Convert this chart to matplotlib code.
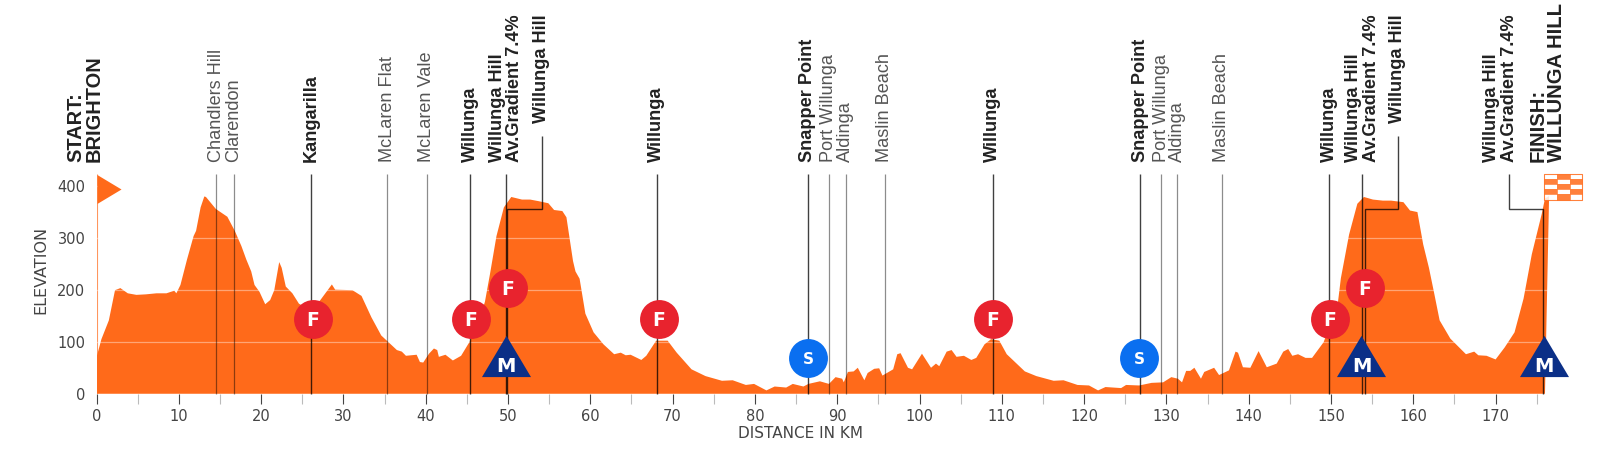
import matplotlib
matplotlib.use('Agg')
import matplotlib.pyplot as plt
from matplotlib.path import Path
from matplotlib.patches import Rectangle

# elevation profile
km = [0, 0.6, 1.5, 2.25, 2.9, 3.8, 4.85, 6, 7.3, 8.5, 9.45, 9.7, 10.2, 11, 11.8, 12.1, 12.65, 13.1, 13.3,
      14.5, 15.9, 16.8, 17.6, 18.2, 18.8, 19.2, 19.8, 20.5, 21.1, 21.6, 22.2, 22.5, 23, 23.8, 24.6, 25.5, 26.4,
      27.2, 28.6, 29, 31.1, 32.2, 33.4, 34.6, 36.5, 37.1, 37.6, 38.9, 39.3, 39.7, 40.4, 41, 41.4, 41.6, 42.4,
      43.3, 44.3, 45.3, 46.3, 47.2, 47.8, 48.6, 49.5, 50.4, 51.7, 52.7, 53.7, 54.9, 55.6, 56.6, 57.1, 57.9,
      58.2, 58.7, 59.4, 60.4, 61.6, 62.9, 63.7, 64.3, 64.9, 66.2, 66.8, 68, 69.4, 70.5, 72.3, 74, 76, 77.3,
      78.9, 79.9, 81.4, 82.4, 83.8, 84.6, 85.9, 86.5, 87.9, 89, 89.8, 90.6, 90.8, 91.3, 92, 92.5, 93.3, 93.7,
      94.5, 95.1, 95.5, 96.8, 97.3, 97.7, 98.6, 99.1, 100.3, 101.4, 102, 102.4, 103.3, 103.9, 104.5, 105.4,
      106.3, 106.9, 107.9, 108.7, 109.7, 110.6, 112.8, 114.2, 116.3, 117.5, 119.2, 120.6, 121.7, 122.6, 124.5,
      125.1, 126.7, 128.2, 129.6, 130.6, 131.4, 131.9, 132.4, 132.9, 133.4, 134.2, 134.6, 135.8, 136.4, 137.6,
      138.4, 138.7, 139.3, 140.2, 141.2, 142.2, 143.4, 144.2, 144.8, 145.3, 146, 146.9, 147.7, 149.1, 150.8,
      151.2, 152.2, 153.2, 154, 155.1, 156.3, 157.3, 158.8, 159.6, 160.5, 161.2, 161.9, 162.5, 163.2, 164.5,
      166.4, 167.4, 167.9, 168.9, 170, 171.1, 172.3, 173.4, 174.4, 175.6, 176, 176.5, 176, 0]
elev = [70, 105, 141, 199, 203, 193, 190, 191, 193, 193, 198, 193, 209, 258, 303, 313, 358, 379, 378,
        355, 340, 313, 284, 258, 235, 209, 196, 172, 180, 199, 253, 242, 206, 193, 173, 165, 165,
        180, 210, 200, 199, 188, 147, 112, 84, 81, 73, 75, 61, 60, 77, 87, 84, 71, 75,
        64, 73, 99, 130, 177, 229, 303, 358, 378, 373, 373, 370, 366, 353, 351, 339, 255,
        235, 221, 154, 118, 95, 76, 79, 74, 75, 65, 73, 102, 102, 79, 47, 34, 25, 26,
        17, 19, 6.5, 14, 12, 19, 14, 19, 24, 19, 32, 29, 22, 42, 43, 50, 26, 40,
        48, 49, 35, 47, 76, 78, 50, 47, 77, 50, 58, 53, 81, 84, 71, 73,
        65, 69, 95, 105, 102, 76, 43, 34, 25, 26, 17, 16, 6.5, 13, 11,
        17, 16, 21, 22, 32, 29, 22, 44, 44, 50, 29, 42, 50, 36, 45,
        81, 79, 51, 50, 82, 51, 58, 81, 86, 73, 76, 69, 69, 99, 170,
        222, 306, 365, 378, 373, 371, 371, 368, 352, 349, 287, 242, 196, 141, 106,
        76, 81, 74, 73, 66, 89, 118, 183, 268, 345, 375, 380, 0, 0]

# places along the route: name lines, km of the line, bold
places = [
    (['Chandlers Hill'], 14.55, False),
    (['Clarendon'], 16.7, False),
    (['Kangarilla'], 26.1, True),
    (['McLaren Flat'], 35.3, False),
    (['McLaren Vale'], 40.1, False),
    (['Willunga'], 45.4, True),
    (['Willunga Hill', 'Av.Gradient 7.4%'], 49.75, True),
    (['Willunga'], 68.1, True),
    (['Snapper Point'], 86.4, True),
    (['Port Willunga'], 89, False),
    (['Aldinga'], 91.05, False),
    (['Maslin Beach'], 95.8, False),
    (['Willunga'], 108.9, True),
    (['Snapper Point'], 126.8, True),
    (['Port Willunga'], 129.35, False),
    (['Aldinga'], 131.3, False),
    (['Maslin Beach'], 136.75, False),
    (['Willunga'], 149.8, True),
    (['Willunga Hill', 'Av.Gradient 7.4%'], 153.8, True),
]
# summit labels that sit on an elbow: km on the profile, km of the label
elbows = [(49.9, 54.1), (154.1, 158.1)]

f_km = [26.25, 45.5, 50, 68.3, 108.9, 149.9, 154.1]
f_elev = [144, 144, 203, 144, 144, 144, 203]
s_km = [86.5, 126.7]
s_elev = [68, 68]
m_km = [49.7, 153.7, 175.9]
m_elev = [72, 72, 72]

ORANGE = '#ff6a1a'

fig = plt.figure(figsize=(16, 4.62), dpi=100)
ax = fig.add_axes([96.5 / 1600, (462 - 393.8) / 462, 8.23 * 181 / 1600, (393.8 - 174) / 462])
ax.set_xlim(0, 181)
ax.set_ylim(0, 219.8 / 0.5207)

ax.fill(km, elev, color=ORANGE, lw=0, zorder=2)
ax.plot([0, 0], [0, 422], color=ORANGE, lw=0.8, alpha=0.7, zorder=2, solid_capstyle='butt')

ax.set_yticks([0, 100, 200, 300, 400])
ax.set_xticks(range(0, 171, 10))
ax.set_xticks(range(5, 176, 10), minor=True)
ax.tick_params(axis='y', length=0, pad=8, labelsize=10.5, labelcolor='#444444')
ax.tick_params(axis='x', which='major', length=7, width=0.8, color='#444444', pad=4, labelsize=10.5, labelcolor='#444444')
ax.tick_params(axis='x', which='minor', length=7, width=0.8, color='#bbbbbb')
ax.xaxis.get_major_ticks()[0].tick1line.set_color('#dddddd')
for s in ax.spines.values():
    s.set_visible(False)
ax.set_axisbelow(False)
ax.grid(axis='y', color='white', alpha=0.4, lw=0.9, zorder=3)

fig.text(801 / 1600, 1 - 433 / 462, 'DISTANCE IN KM', ha='center', va='center', fontsize=11, color='#444444')
fig.text(41 / 1600, 1 - 270 / 462, 'ELEVATION', ha='center', va='center', rotation=90, fontsize=11.5, color='#444444')


def place_text(x, lines, bold, base=445, size=13.1, gap=2.14):
    weight = 'bold' if bold else 'normal'
    color = '#222222' if bold else '#555555'
    for i, line in enumerate(lines):
        ax.text(x + (i - (len(lines) - 1) / 2) * gap, base, line, rotation=90,
                ha='center', va='bottom', fontsize=size, fontweight=weight, color=color,
                family='Liberation Sans', clip_on=False, zorder=6)


def route_line(xs, ys, bold=True):
    ax.plot(xs, ys, color='black', alpha=0.75 if bold else 0.45, lw=1.0 if bold else 0.9,
            zorder=4, clip_on=False, solid_capstyle='butt', solid_joinstyle='miter')


for lines, line_km, bold in places:
    route_line([line_km, line_km], [0, 422], bold)
    place_text(line_km, lines, bold)

for x0, x1 in elbows:
    route_line([x0, x0, x1, x1], [0, 354, 354, 495])
    place_text(x1, ['Willunga Hill'], True, base=520)

# last climb, the line comes off the second row of the label
route_line([175.7, 175.7, 171.6, 171.6], [0, 354, 354, 422])
place_text(170.6, ['Willunga Hill', 'Av.Gradient 7.4%'], True)

place_text(-1.4, ['START:', 'BRIGHTON'], True, size=14.4, gap=2.15)
place_text(176.3, ['FINISH:', 'WILLUNGA HILL'], True, size=14.6, gap=2.15)

# start flag
start_flag = Path([(0, 0.6), (1, 0), (0, -0.6), (0, 0.6)], closed=True)
ax.plot([0], [394], marker=start_flag, markersize=34.6, color=ORANGE, mew=0, ls='none', zorder=5, clip_on=False)

# finish flag
check_x0, check_w, check_h = 175.9, 1.54, 9.8
pattern = [[0, 1, 0], [1, 0, 1], [0, 1, 0], [1, 0, 1], [0, 1, 0]]
for r, row in enumerate(pattern):
    for c, v in enumerate(row):
        ax.add_patch(Rectangle((check_x0 + c * check_w, 422 - (r + 1) * check_h), check_w, check_h,
                               facecolor=ORANGE if v else 'white', edgecolor=ORANGE, lw=0.4,
                               alpha=0.85, zorder=5, clip_on=False))
ax.add_patch(Rectangle((check_x0, 422 - 5 * check_h), 3 * check_w, 5 * check_h, facecolor='none',
                       edgecolor=ORANGE, lw=0.8, alpha=0.7, zorder=5, clip_on=False))

# sprint and climb markers
triangle = Path([(-1, -0.84), (1, -0.84), (0, 0.84), (-1, -0.84)], closed=True)
ax.plot(m_km, m_elev, marker=triangle, markersize=35.3, color='#0b2f87', mew=0, ls='none', zorder=7)
ax.plot(f_km, f_elev, marker='o', markersize=28, color='#e8232e', mew=0, ls='none', zorder=7)
ax.plot(s_km, s_elev, marker='o', markersize=28, color='#0a6ff0', mew=0, ls='none', zorder=7)
for x, y in zip(f_km, f_elev):
    ax.text(x, y + 1, 'F', color='white', ha='center', va='center_baseline', fontsize=13.5, fontweight='bold', zorder=8)
for x, y in zip(s_km, s_elev):
    ax.text(x, y + 1, 'S', color='white', ha='center', va='center_baseline', fontsize=11, fontweight='bold', zorder=8)
for x, y in zip(m_km, m_elev):
    ax.text(x, y - 16, 'M', color='white', ha='center', va='center_baseline', fontsize=14, fontweight='bold', zorder=8)

fig.savefig('out.png', dpi=100)
